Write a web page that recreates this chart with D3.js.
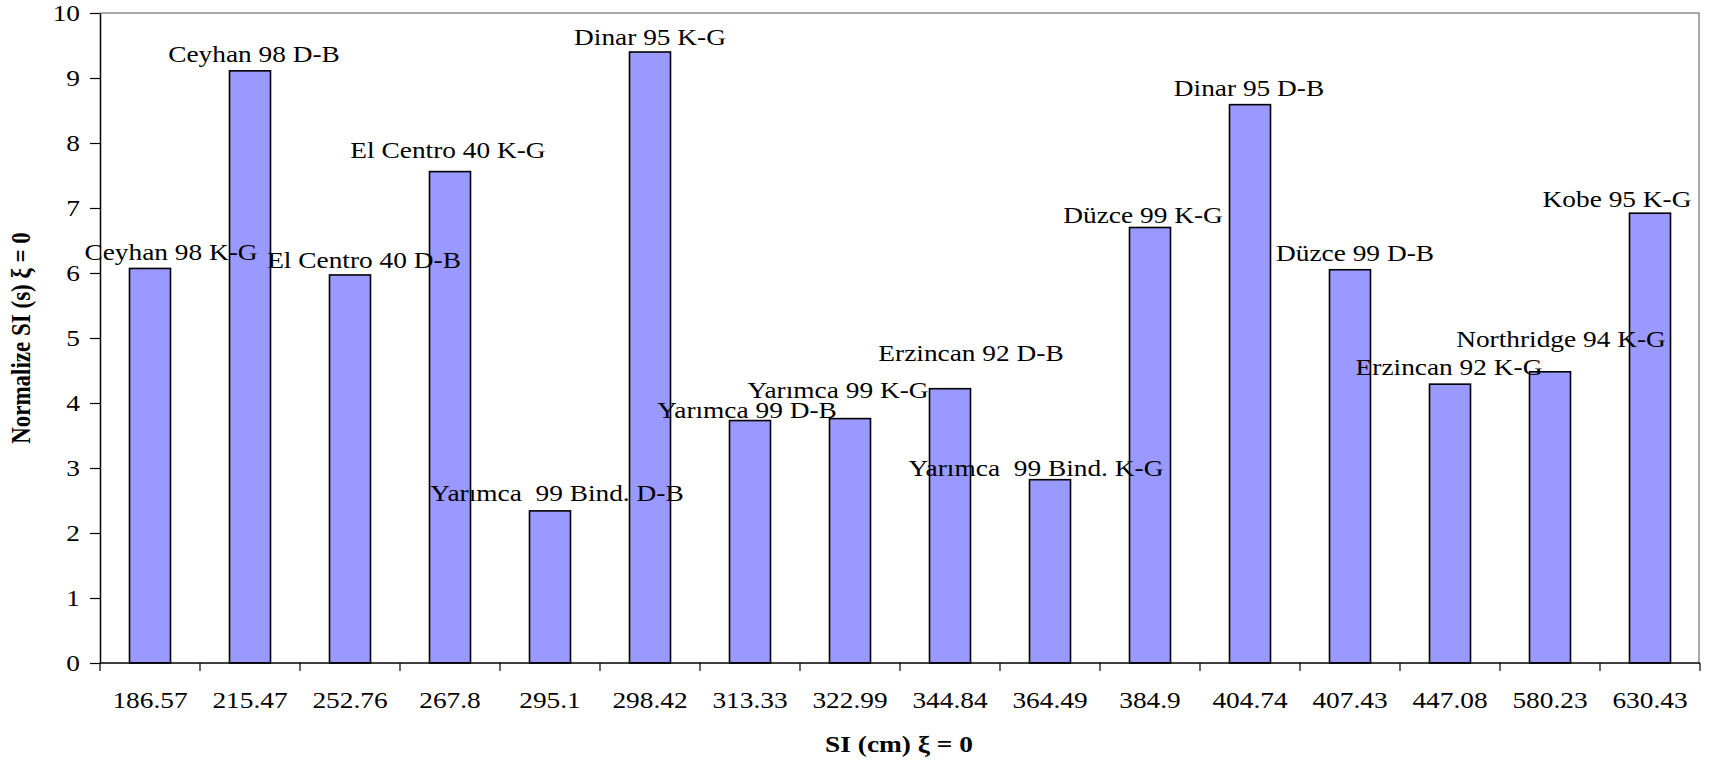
<!DOCTYPE html>
<html>
<head>
<meta charset="utf-8">
<script src="https://cdn.jsdelivr.net/npm/d3@7"></script>
<style>
  html, body { margin: 0; padding: 0; background: #fff; }
  text { font-family: "Liberation Serif", "Times New Roman", serif; white-space: pre; }
</style>
</head>
<body>
<svg id="chart" width="1711" height="762"></svg>
<script>
// ---- data ----
const categories = ["186.57","215.47","252.76","267.8","295.1","298.42","313.33","322.99","344.84","364.49","384.9","404.74","407.43","447.08","580.23","630.43"];
const values = [6.07, 9.11, 5.97, 7.56, 2.34, 9.40, 3.73, 3.76, 4.22, 2.82, 6.70, 8.59, 6.05, 4.29, 4.48, 6.92];
const labels = ["Ceyhan 98 K-G","Ceyhan 98 D-B","El Centro 40 D-B","El Centro 40 K-G","Yarımca  99 Bind. D-B","Dinar 95 K-G","Yarımca 99 D-B","Yarımca 99 K-G","Erzincan 92 D-B","Yarımca  99 Bind. K-G","Düzce 99 K-G","Dinar 95 D-B","Düzce 99 D-B","Erzincan 92 K-G","Northridge 94 K-G","Kobe 95 K-G"];
const yTicks = [0,1,2,3,4,5,6,7,8,9,10];
const xTitle = "SI (cm) ξ = 0";
const yTitle = "Normalize SI (s) ξ = 0";

// ---- layout (label nudges, px, relative to bar top centre) ----
const labelNudge = [[21,-8],[4,-9],[14,-7],[-2,-14],[7,-10],[0,-7],[-3,-3],[-12,-21],[21,-28],[-14,-4],[-7,-5],[-1,-9],[5,-9],[-1,-9],[11,-25],[-33,-6]];

const SX = 1.19;      // horizontal stretch of the original text
const FS = 23;

const svg = d3.select("#chart");
const m = {left: 100, top: 13, right: 1711 - 1699, bottom: 762 - 663};
const W = 1711, H = 762;

const x = d3.scaleBand().domain(categories).range([m.left, m.left + 1600])
  .paddingInner(0.59).paddingOuter(0.295);
const y = d3.scaleLinear().domain([0, 10]).range([H - m.bottom, m.top]);

// frame (top and right, gray)
svg.append("path")
  .attr("d", `M${m.left},${y(10)}H${1699}V${y(0)}`)
  .attr("fill", "none").attr("stroke", "#8c8c8c").attr("stroke-width", 1.5);

// bars
svg.append("g").selectAll("rect").data(values).join("rect")
  .attr("x", (d, i) => x(categories[i]))
  .attr("y", d => y(d))
  .attr("width", x.bandwidth())
  .attr("height", d => y(0) - y(d))
  .attr("fill", "#9999ff")
  .attr("stroke", "#000").attr("stroke-width", 1.6);

// y axis
const ya = svg.append("g").attr("transform", `translate(${m.left},0)`)
  .call(d3.axisLeft(y).tickValues(yTicks).tickFormat(d3.format("d")).tickSize(10).tickSizeOuter(0));
ya.select(".domain").attr("stroke", "#000").attr("stroke-width", 1.5);
ya.selectAll(".tick line").attr("stroke", "#000").attr("stroke-width", 1.2);
ya.selectAll(".tick text")
  .attr("font-size", FS).attr("font-family", "Liberation Serif").attr("fill", "#000")
  .attr("x", -20 / SX).attr("dy", "0.34em")
  .attr("transform", `scale(${SX},1)`);

// x axis (labels centred on bands)
const xa = svg.append("g").attr("transform", `translate(0,${y(0)})`)
  .call(d3.axisBottom(x).tickSize(0).tickSizeOuter(0).tickPadding(0));
xa.select(".domain").remove();
xa.selectAll(".tick text")
  .attr("font-size", FS).attr("font-family", "Liberation Serif").attr("fill", "#000")
  .attr("y", 45).attr("dy", 0)
  .attr("transform", `scale(${SX},1)`);
// x baseline and boundary ticks
svg.append("line").attr("x1", m.left).attr("x2", m.left + 1600)
  .attr("y1", y(0)).attr("y2", y(0)).attr("stroke", "#000").attr("stroke-width", 1.5);
svg.append("g").selectAll("line").data(d3.range(categories.length + 1)).join("line")
  .attr("x1", i => x.range()[0] + i * x.step()).attr("x2", i => x.range()[0] + i * x.step())
  .attr("y1", y(0)).attr("y2", y(0) + 8)
  .attr("stroke", "#000").attr("stroke-width", 1.2);

// data labels
svg.append("g").selectAll("text").data(labels).join("text")
  .attr("transform", (d, i) => `translate(${x(categories[i]) + x.bandwidth() / 2 + labelNudge[i][0]},${y(values[i]) + labelNudge[i][1]}) scale(${SX},1)`)
  .attr("text-anchor", "middle")
  .attr("font-size", FS).attr("fill", "#000")
  .text(d => d);

// axis titles
svg.append("text")
  .attr("transform", `translate(899,752) scale(${SX},1)`)
  .attr("text-anchor", "middle").attr("font-weight", "bold").attr("font-size", FS)
  .text(xTitle);
svg.append("text")
  .attr("transform", `translate(30,${(y(0) + y(10)) / 2}) scale(${SX},1) rotate(-90)`)
  .attr("text-anchor", "middle").attr("font-weight", "bold").attr("font-size", FS)
  .text(yTitle);
</script>
</body>
</html>
